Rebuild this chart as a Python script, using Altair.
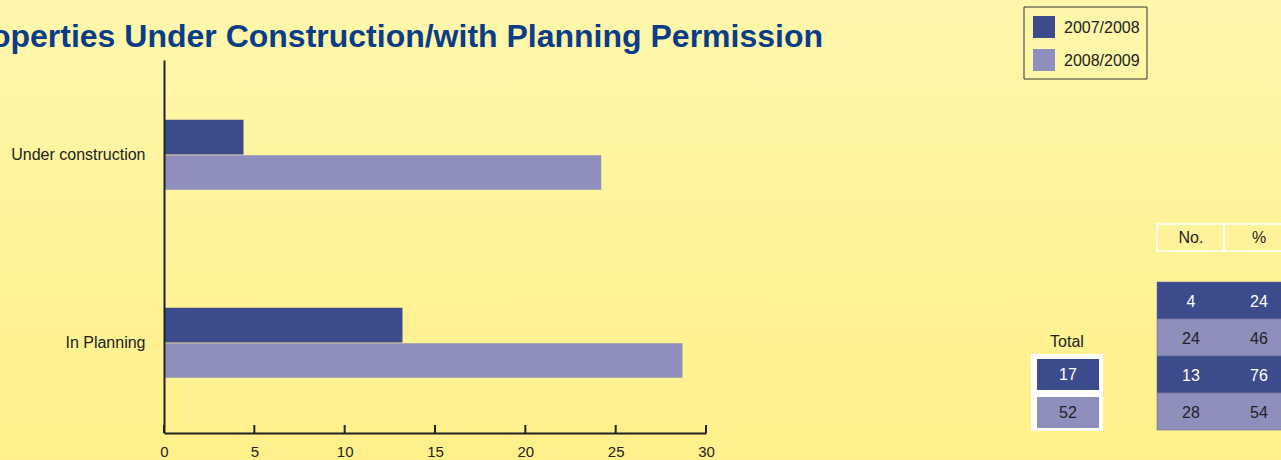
import altair as alt
import pandas as pd

# ---------------- data ----------------
title_text = "Properties Under Construction/with Planning Permission"
categories = ["Under construction", "In Planning"]
series = ["2007/2008", "2008/2009"]
values_2007_2008 = [4.4, 13.2]
values_2008_2009 = [24.2, 28.7]
tick_values = [0, 5, 10, 15, 20, 25, 30]

table_headers = ["No.", "%"]
table_no = [4, 24, 13, 28]
table_pct = [24, 46, 76, 54]
total_label = "Total"
totals = [17, 52]

# ---------------- styles ----------------
DARK = "#3C4B8C"
LIGHT = "#8F8FBE"
TXT = "#222222"
FONT = "Liberation Sans"
W, H = 1281, 460
L, T = 164, 60          # plot origin in page pixels
PW, PH = 542, 373       # plot area size


def px(x):
    return alt.value(x - L)


def py(y):
    return alt.value(y - T)


one = pd.DataFrame({"k": [0]})

# background gradient
bg = alt.Chart(one).mark_rect(
    color=alt.LinearGradient(
        gradient="linear",
        stops=[alt.GradientStop(color="#FEF7AC", offset=0),
               alt.GradientStop(color="#FFF08A", offset=1)],
        x1=0, x2=0, y1=0, y2=1,
    )
).encode(x=px(0), x2=px(W), y=py(0), y2=py(H))

# bars
bars_df = pd.DataFrame({
    "category": categories * 2,
    "series": [series[0]] * len(categories) + [series[1]] * len(categories),
    "value": values_2007_2008 + values_2008_2009,
})

bars = alt.Chart(bars_df).mark_bar().encode(
    x=alt.X("value:Q",
            scale=alt.Scale(domain=[0, 30], nice=False, zero=True),
            axis=alt.Axis(values=tick_values, ticks=False, grid=False, title=None,
                          domainColor=TXT, domainWidth=2, labelFont=FONT,
                          labelFontSize=15, labelColor=TXT, labelPadding=11,
                          labelFlush=False, zindex=1)),
    y=alt.Y("category:N", sort=categories,
            scale=alt.Scale(paddingInner=0.628, paddingOuter=0.306, align=0.52),
            axis=alt.Axis(title=None, ticks=False, grid=False, domainColor=TXT,
                          domainWidth=2, labelFont=FONT, labelFontSize=16,
                          labelColor=TXT, labelPadding=19, zindex=1)),
    yOffset=alt.YOffset("series:N", sort=series, scale=alt.Scale(paddingInner=0.02)),
    color=alt.Color("series:N", scale=alt.Scale(domain=series, range=[DARK, LIGHT]),
                    legend=None),
)

ticks = alt.Chart(pd.DataFrame({"t": tick_values})).mark_rule(
    color=TXT, strokeWidth=2
).encode(x=alt.X("t:Q"), y=alt.value(PH - 8), y2=alt.value(PH))

layers = [bg, bars, ticks]

# title
layers.append(
    alt.Chart(pd.DataFrame({"t": [title_text]})).mark_text(
        font=FONT, fontSize=32, fontWeight="bold", color="#0B3C88",
        align="right", baseline="alphabetic"
    ).encode(text="t:N", x=px(823), y=py(47))
)

# legend
layers.append(
    alt.Chart(one).mark_rect(fill="#FFFFFF", fillOpacity=0, stroke="#333333",
                             strokeWidth=1).encode(
        x=px(1024), x2=px(1147), y=py(7), y2=py(79))
)
for i, (s, c) in enumerate(zip(series, [DARK, LIGHT])):
    y0 = 16 + i * 33
    layers.append(alt.Chart(one).mark_rect(color=c).encode(
        x=px(1033), x2=px(1055), y=py(y0), y2=py(y0 + 22)))
    layers.append(alt.Chart(pd.DataFrame({"t": [s]})).mark_text(
        font=FONT, fontSize=16, color=TXT, align="left", baseline="middle"
    ).encode(text="t:N", x=px(1064), y=py(y0 + 12)))

# table header
col_edges = [(1157, 1224), (1224, 1300)]
col_centers = [1191, 1259]
for h, (a, b), cx in zip(table_headers, col_edges, col_centers):
    layers.append(alt.Chart(one).mark_rect(fillOpacity=0, stroke="#FFFFFF",
                                           strokeWidth=1.5).encode(
        x=px(a), x2=px(b), y=py(224), y2=py(251)))
    layers.append(alt.Chart(pd.DataFrame({"t": [h]})).mark_text(
        font=FONT, fontSize=16, color=TXT, align="center", baseline="middle"
    ).encode(text="t:N", x=px(cx), y=py(238)))

# table rows
row_h = 37
for r, (n, p) in enumerate(zip(table_no, table_pct)):
    y0 = 282 + r * row_h
    dark = (r % 2 == 0)
    layers.append(alt.Chart(one).mark_rect(
        color=DARK if dark else LIGHT, stroke="#6E6F9E", strokeWidth=0.6).encode(
        x=px(1157), x2=px(1300), y=py(y0), y2=py(y0 + row_h)))
    for v, cx in zip([n, p], col_centers):
        layers.append(alt.Chart(pd.DataFrame({"t": [str(v)]})).mark_text(
            font=FONT, fontSize=16, color="#FFFFFF" if dark else TXT,
            align="center", baseline="middle"
        ).encode(text="t:N", x=px(cx), y=py(y0 + row_h / 2 + 1)))

# totals
layers.append(alt.Chart(pd.DataFrame({"t": [total_label]})).mark_text(
    font=FONT, fontSize=16, color=TXT, align="center", baseline="middle"
).encode(text="t:N", x=px(1067), y=py(342)))
layers.append(alt.Chart(one).mark_rect(color="#FFFFFF").encode(
    x=px(1031), x2=px(1103), y=py(354), y2=py(431)))
for i, v in enumerate(totals):
    y0 = 359 + i * 38
    dark = (i == 0)
    layers.append(alt.Chart(one).mark_rect(color=DARK if dark else LIGHT).encode(
        x=px(1037), x2=px(1099), y=py(y0), y2=py(y0 + 31)))
    layers.append(alt.Chart(pd.DataFrame({"t": [str(v)]})).mark_text(
        font=FONT, fontSize=16, color="#FFFFFF" if dark else TXT,
        align="center", baseline="middle"
    ).encode(text="t:N", x=px(1068), y=py(y0 + 16)))

chart = alt.layer(*layers).properties(
    width=PW, height=PH,
    autosize=alt.AutoSizeParams(type="none"),
    padding={"left": L, "top": T, "right": W - L - PW, "bottom": H - T - PH},
    background="#FFF39A",
).configure_view(stroke=None)

chart.save("out.html", embed_options={"renderer": "svg", "actions": False})
